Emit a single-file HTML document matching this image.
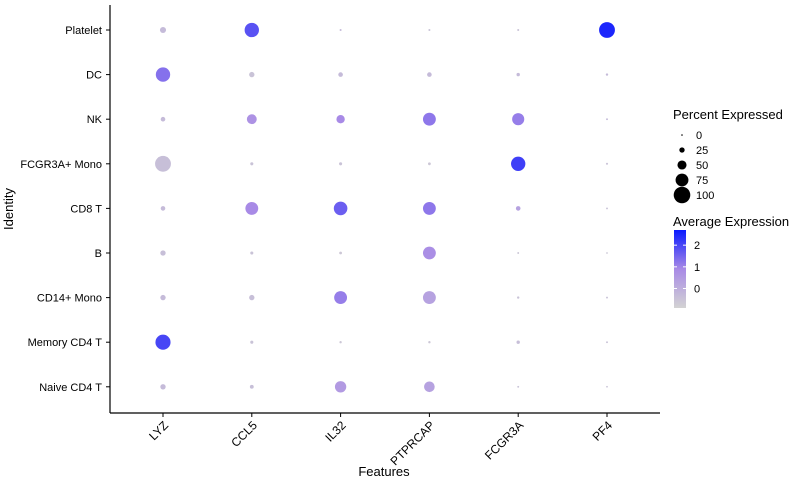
<!DOCTYPE html>
<html><head><meta charset="utf-8"><style>
body{margin:0;background:#fff;font-family:"Liberation Sans",sans-serif}
svg text{font-family:"Liberation Sans",sans-serif}
</style></head><body>
<svg id="c" width="797" height="484" xmlns="http://www.w3.org/2000/svg">
<defs><linearGradient id="g" x1="0" y1="1" x2="0" y2="0">
<stop offset="0" stop-color="#d3d3d3"/><stop offset="0.5" stop-color="#a88ae6"/><stop offset="1" stop-color="#0a1aff"/></linearGradient></defs>
<g id="plot"></g>
<line x1="110" y1="5" x2="110" y2="413" stroke="#000" stroke-width="1.2"/>
<line x1="110" y1="413" x2="660" y2="413" stroke="#000" stroke-width="1.2"/>
<text x="384" y="476" font-size="13" text-anchor="middle">Features</text>
<text x="13" y="209" font-size="13" text-anchor="middle" transform="rotate(-90 13 209)">Identity</text>
<text x="673" y="119" font-size="13">Percent Expressed</text>
<g id="sizeLeg"></g>
<text x="673" y="226" font-size="13">Average Expression</text>
<rect x="674" y="230" width="12" height="78" fill="url(#g)"/>
<g id="colLeg"></g>
</svg>
<script>
const features=["LYZ","CCL5","IL32","PTPRCAP","FCGR3A","PF4"];
const identities=["Platelet","DC","NK","FCGR3A+ Mono","CD8 T","B","CD14+ Mono","Memory CD4 T","Naive CD4 T"];
const pctExpressed=[
[30,85,3,3,3,95],
[85,25,20,20,12,5],
[20,55,45,75,70,2],
[95,10,10,8,85,3],
[20,75,80,75,20,2],
[25,10,8,75,2,1],
[25,25,75,75,5,2],
[90,10,5,5,12,2],
[25,15,65,60,2,1]];
const avgExpression=[
[-0.3,1.8,-0.3,-0.5,-0.5,2.5],
[1.3,-0.5,-0.3,-0.3,-0.3,-0.3],
[-0.3,0.7,0.9,1.2,1.1,-0.3],
[-0.4,-0.5,-0.5,-0.6,2.1,-0.5],
[-0.3,0.9,1.6,1.2,0.3,-0.5],
[-0.4,-0.5,-0.6,0.8,-0.6,-0.6],
[-0.3,-0.4,1.1,0.3,-0.5,-0.5],
[2.0,-0.5,-0.6,-0.6,-0.4,-0.5],
[-0.3,-0.4,0.5,0.3,-0.5,-0.5]];
const sizeTicks=[0,25,50,75,100];
const colorTicks=[2,1,0];
const NS="http://www.w3.org/2000/svg";
const xPos=i=>163+i*88.8;
const yPos=j=>30+j*44.6;
const rad=p=>0.8+7.5*p/100;
const cMin=-0.9,cMax=2.7;
function lerp(a,b,t){return a.map((v,i)=>Math.round(v+(b[i]-v)*t));}
function col(v){let t=Math.max(0,Math.min(1,(v-cMin)/(cMax-cMin)));
const s=[[211,211,211],[168,138,230],[10,26,255]];
const c=t<0.5?lerp(s[0],s[1],t/0.5):lerp(s[1],s[2],(t-0.5)/0.5);return `rgb(${c})`;}
function mk(tag,attrs,parent,text){const e=document.createElementNS(NS,tag);for(const k in attrs)e.setAttribute(k,attrs[k]);if(text!==undefined)e.textContent=text;parent.appendChild(e);return e;}
const plot=document.getElementById('plot');
features.forEach((f,i)=>{
const tk=mk('line',{x1:xPos(i),x2:xPos(i),y1:413,y2:417,stroke:'#000'},plot);


const x=xPos(i)+6,y=426;
const t=mk('text',{x:x,y:y,'font-size':12,'text-anchor':'end',transform:`rotate(-45 ${x} ${y})`},plot,f);


});
identities.forEach((n,j)=>{
const tk=mk('line',{x1:106,x2:110,y1:yPos(j),y2:yPos(j),stroke:'#000'},plot);


const t=mk('text',{x:102,y:yPos(j)+4,'font-size':11,'text-anchor':'end'},plot,n);


features.forEach((f,i)=>{
const c=mk('circle',{cx:xPos(i),cy:yPos(j),r:rad(pctExpressed[j][i]),fill:col(avgExpression[j][i])},plot);


});
});
const sl=document.getElementById('sizeLeg');
sizeTicks.forEach((s,k)=>{
const y=135+k*15;
const c=mk('circle',{cx:682,cy:y,r:rad(s),fill:'#000'},sl);


const t=mk('text',{x:696,y:y+4,'font-size':11},sl,s);


});
const cl=document.getElementById('colLeg');
colorTicks.forEach(v=>{
const y=308-(v-cMin)/(cMax-cMin)*78;
mk('line',{x1:674,x2:677,y1:y,y2:y,stroke:'#fff'},cl);
mk('line',{x1:683,x2:686,y1:y,y2:y,stroke:'#fff'},cl);
const t=mk('text',{x:694,y:y+4,'font-size':11},cl,v);


});
</script>
</body></html>
